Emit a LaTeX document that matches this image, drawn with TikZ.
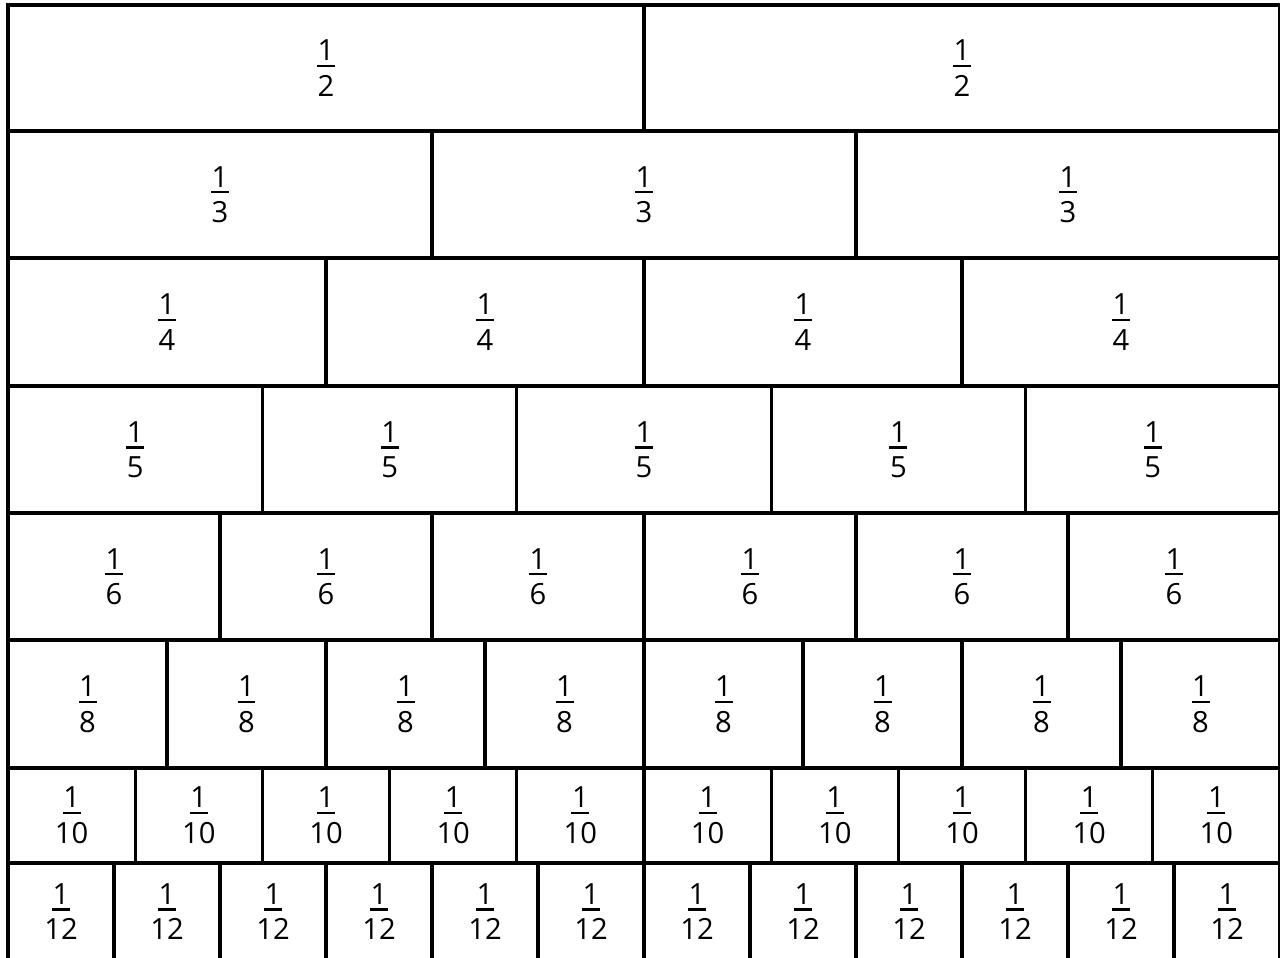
\documentclass[tikz,border=0pt]{standalone}
\usepackage{fontspec}
\setmainfont{Open Sans}
\usepackage{tikz}
\usetikzlibrary{positioning}
\newcommand{\ufrac}[1]{\vbox{\offinterlineskip\halign{\hfil##\hfil\cr 1\cr\noalign{\kern0.4mm}\rule{1.8mm}{0.24mm}\cr\noalign{\kern0.8mm}#1\cr}}}
\tikzset{
  fcell/.style={draw=black,line width=0.9pt,fill=white,inner sep=0pt,outer sep=0pt,
    font=\fontsize{8.3}{10}\selectfont}
}
\begin{document}
\begin{tikzpicture}[x=0.1mm,y=-0.1mm]
  \useasboundingbox (0,0) rectangle (1280,958);
  \clip (0,0) rectangle (1280,958);
  \foreach \n/\t/\h in {2/5/126,3/131/127,4/258/128,5/386/127,6/513/127,8/640/128,10/768/95,12/863/97}{
    \pgfmathsetmacro{\w}{127.2/\n}
    \pgfmathsetmacro{\hh}{\h/10}
    \pgfmathsetmacro{\cy}{\t+\h/2}
    \foreach \k in {1,...,\n}{
      \pgfmathsetmacro{\cx}{8+(\k-0.5)*1272/\n}
      \node[fcell,minimum width=\w mm,minimum height=\hh mm] (c\n-\k) at (\cx,\cy) {\ufrac{\n}};
    }
  }
\end{tikzpicture}
\end{document}
